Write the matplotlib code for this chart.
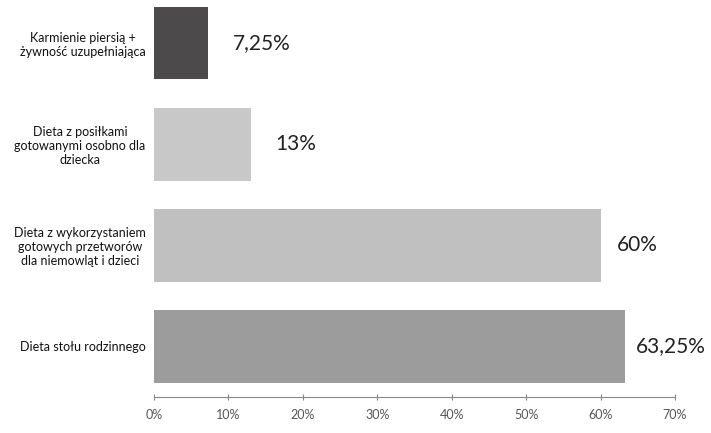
import matplotlib.pyplot as plt
from matplotlib.ticker import FuncFormatter

categories = ["Karmienie piersią +\nżywność uzupełniająca",
              "Dieta z posiłkami\ngotowanymi osobno dla\ndziecka",
              "Dieta z wykorzystaniem\ngotowych przetworów\ndla niemowląt i dzieci",
              "Dieta stołu rodzinnego"]
values = [7.25, 13, 60, 63.25]
value_labels = ["7,25%", "13%", "60%", "63,25%"]
colors = ["#4d4a4b", "#c8c8c8", "#c0c0c0", "#9c9c9c"]
label_offsets = [25, 25, 16, 11]

plt.rcParams['font.family'] = ['Lato', 'DejaVu Sans']

fig = plt.figure(figsize=(7.11, 4.33), dpi=100)
ax = fig.add_axes([154 / 711, 1 - 397 / 433, (675 - 154) / 711, 404.5 / 433])

pos = list(range(len(categories)))
ax.barh(pos, values, height=0.72, color=colors)
ax.set_ylim(3.5, -0.5)
ax.set_xlim(0, 70)
ax.set_xticks(range(0, 71, 10))
ax.xaxis.set_major_formatter(FuncFormatter(lambda v, p: "%d%%" % v))

for i, (v, lab) in enumerate(zip(values, value_labels)):
    ax.annotate(lab, (v, i), xytext=(label_offsets[i] * 0.72, 0), textcoords='offset points',
                va='center', ha='left', fontsize=15, color='#222222')

ax.set_yticks(pos)
ax.set_yticklabels(categories, multialignment='center', fontsize=9, color='#111111')
ax.tick_params(axis='y', length=0, pad=6)
ax.tick_params(axis='x', direction='inout', length=5, color='#888888', labelsize=9,
               labelcolor='#555555', pad=6)
for s in ['top', 'right', 'left']:
    ax.spines[s].set_visible(False)
ax.spines['bottom'].set_color('#888888')

fig.savefig('out.png', dpi=100)
